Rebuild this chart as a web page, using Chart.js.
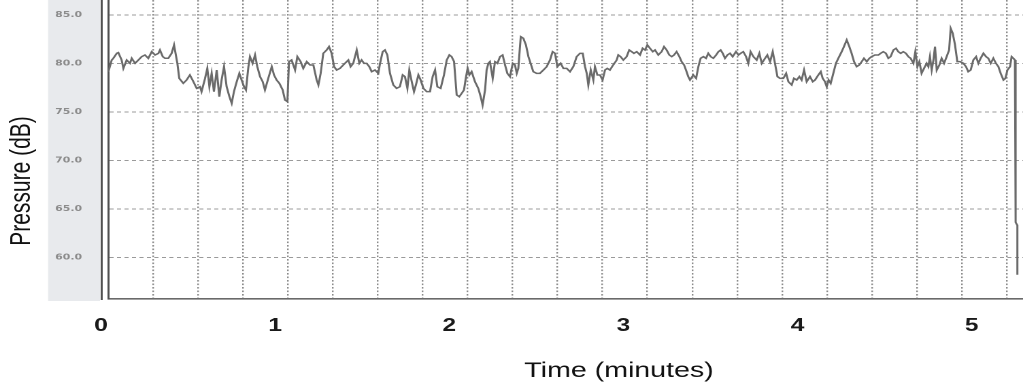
<!DOCTYPE html>
<html>
<head>
<meta charset="utf-8">
<title>Pressure (dB)</title>
<script src="https://cdn.jsdelivr.net/npm/chart.js@4.4.0/dist/chart.umd.min.js"></script>
<style>
    html, body { margin: 0; padding: 0; background: #fff; overflow: hidden; }
    /* the source picture is stretched sideways, so the chart is drawn narrow and widened */
    #wrap { width: 752px; height: 386px; transform: scaleX(1.3604); transform-origin: 0 0; }
</style>
</head>
<body>
<div id="wrap"><canvas id="chart" width="752" height="386"></canvas></div>
<script>
// 시간 (분)
const TIME_MIN = [
    0.042,0.061,0.070,0.090,0.099,0.118,0.128,0.147,0.166,0.176,
    0.195,0.214,0.233,0.252,0.271,0.291,0.310,0.329,0.338,0.354,
    0.367,0.386,0.405,0.419,0.438,0.449,0.472,0.491,0.510,0.530,
    0.549,0.568,0.577,0.597,0.610,0.622,0.635,0.648,0.664,0.679,
    0.692,0.706,0.721,0.737,0.750,0.763,0.779,0.794,0.807,0.821,
    0.832,0.846,0.855,0.870,0.884,0.897,0.913,0.928,0.941,0.960,
    0.980,0.993,1.008,1.024,1.043,1.056,1.070,1.079,1.094,1.114,
    1.127,1.146,1.161,1.181,1.200,
    1.219,1.238,1.248,1.261,1.276,1.295,1.309,1.324,1.338,1.353,
    1.372,1.391,1.410,1.420,1.433,1.448,1.468,1.483,1.496,1.510,
    1.525,1.540,1.554,1.573,1.592,1.602,1.617,1.630,1.644,1.659,
    1.678,1.697,1.716,1.732,1.745,1.759,1.770,1.784,1.797,1.808,
    1.822,1.835,1.851,1.870,1.889,1.904,1.918,1.931,1.950,1.969,
    1.985,2.000,2.013,2.027,2.042,2.057,2.071,2.084,2.096,2.105,
    2.115,2.128,2.147,2.166,2.180,2.191,2.205,2.214,2.224,2.233,
    2.249,2.262,2.276,2.291,2.306,2.320,2.333,2.348,2.364,2.377,
    2.387,2.396,2.410,2.425,2.440,2.454,
    2.482,2.501,2.520,2.540,2.559,2.578,2.593,2.607,2.620,2.639,
    2.655,2.674,2.693,2.712,2.731,2.750,2.766,2.779,2.789,2.798,
    2.812,2.827,2.836,2.850,2.865,2.880,2.894,2.907,2.922,2.941,
    2.961,2.970,2.983,2.999,3.018,3.033,3.047,3.060,3.076,3.095,
    3.110,3.124,3.137,3.152,3.168,3.181,3.200,3.219,3.233,3.248,
    3.263,3.277,3.290,3.305,3.321,3.334,3.348,3.359,3.372,3.382,
    3.401,3.417,3.430,3.443,3.459,3.474,3.487,3.501,3.516,3.532,
    3.545,3.558,3.570,3.583,3.597,3.612,3.627,3.646,3.660,3.673,
    3.688,3.704,3.717,3.730,3.746,
    3.765,3.780,3.794,3.813,3.826,3.842,3.857,3.870,3.884,3.899,
    3.918,3.934,3.947,3.966,3.979,3.995,4.010,4.023,4.037,4.052,
    4.071,4.087,4.100,4.119,4.133,4.144,4.157,4.167,4.178,4.190,
    4.205,4.220,4.234,4.253,4.266,4.282,4.297,4.310,4.324,4.339,
    4.354,4.368,4.381,4.397,4.412,4.425,4.444,4.464,4.477,4.492,
    4.507,4.521,4.534,4.550,4.565,4.578,4.592,4.607,4.622,4.636,
    4.649,4.665,4.676,4.688,4.699,4.712,4.726,4.741,4.751,4.760,
    4.770,4.780,4.789,4.799,4.814,4.827,4.841,4.856,4.870,4.879,
    4.891,4.904,4.917,4.933,4.952,4.967,4.980,4.994,5.009,5.025,
    5.038,5.051,5.067,5.082,5.095,5.109,5.124,5.139,5.153,5.166,
    5.182,5.193,5.205,5.220,5.229,5.239,5.248,5.252,5.252,5.262,5.262
];

// 압력 (dB)
const PRESSURE_DB = [
    79.14,80.34,80.51,81.03,81.10,80.34,79.48,80.34,80.00,80.52,
    80.00,80.34,80.69,80.86,80.52,81.20,80.86,81.03,81.37,80.69,
    80.52,80.52,81.03,81.89,80.00,78.45,77.94,78.28,78.80,78.11,
    77.42,77.59,77.08,78.45,79.48,77.59,78.97,77.08,79.31,76.56,
    78.28,79.66,77.59,76.56,75.88,77.08,78.11,78.97,78.28,77.59,
    77.25,79.66,80.69,80.00,80.86,79.66,78.63,78.11,77.25,78.45,
    79.66,78.80,78.28,77.94,77.25,76.22,76.05,80.17,80.34,79.31,
    80.69,80.17,79.48,80.17,79.83,
    79.83,78.28,77.77,78.97,81.03,81.37,81.72,81.03,79.66,79.31,
    79.48,79.83,80.17,80.34,79.66,80.00,81.37,80.00,80.34,80.00,
    80.00,79.66,79.14,79.31,78.97,80.00,81.20,81.37,80.86,78.97,
    77.77,77.42,77.59,78.80,78.63,77.42,79.31,78.11,77.08,77.77,
    78.80,78.28,77.42,77.08,77.08,78.63,79.31,77.59,77.42,78.80,
    80.34,80.86,80.69,80.17,76.74,76.56,76.91,77.25,78.63,79.48,
    78.80,79.14,78.11,77.42,76.56,75.70,77.25,79.31,80.00,80.17,
    78.45,80.17,80.00,80.69,80.86,79.83,78.97,78.63,80.00,79.83,
    78.97,79.48,82.75,82.58,81.89,80.69,
    79.14,78.97,78.97,79.31,79.66,80.34,81.20,81.03,79.66,80.00,
    79.48,79.48,79.14,79.66,80.69,81.03,81.03,79.66,78.97,77.77,
    79.31,78.28,79.66,78.80,78.80,78.28,79.31,79.48,79.31,79.83,
    80.34,80.86,80.69,80.34,80.69,81.37,81.20,81.03,81.20,80.86,
    81.55,81.37,81.89,81.55,81.20,81.37,80.86,81.20,81.72,81.37,
    80.86,80.69,80.86,81.20,80.69,80.17,79.83,79.31,78.63,78.28,
    78.80,78.45,79.66,80.52,80.69,80.52,81.03,80.69,80.52,80.86,
    81.20,81.37,81.03,80.52,80.86,81.03,80.69,81.20,80.86,81.03,
    81.20,80.69,80.00,81.20,80.69,
    80.34,81.03,80.00,80.52,80.86,80.17,81.20,80.00,78.63,78.45,
    78.45,78.97,78.11,77.77,78.45,78.28,78.63,78.28,79.31,78.11,
    78.63,78.11,78.28,78.80,79.14,78.45,78.11,77.59,78.28,77.94,
    78.97,80.00,80.52,81.20,81.72,82.41,81.72,81.03,80.17,79.66,
    79.83,80.17,80.52,80.17,80.52,80.69,80.86,80.86,81.03,81.20,
    81.03,80.52,80.69,81.37,81.55,81.20,81.03,81.20,81.03,80.69,
    80.52,80.00,81.20,79.66,80.17,78.97,79.48,80.00,79.66,80.69,
    79.31,80.34,81.72,79.31,79.83,80.52,80.00,80.69,81.37,83.61,
    83.09,81.89,80.17,80.17,80.00,79.66,79.14,79.31,80.34,80.69,
    80.00,80.52,81.03,80.69,80.52,80.00,80.52,80.00,79.66,78.97,
    78.28,78.45,79.31,79.66,80.69,80.52,80.34,80.00,63.60,63.30,58.20
];

// 축 눈금
const X_TICKS = [0, 1, 2, 3, 4, 5];
const X_GRID = [0.299, 0.557, 0.815, 1.073, 1.331, 1.589, 1.847, 2.105, 2.363, 2.621,
                2.879, 3.137, 3.395, 3.653, 3.911, 4.169, 4.427, 4.685, 4.943, 5.201];
const Y_TICKS = [60, 65, 70, 75, 80, 85];
const X_MIN = 0.0414, X_MAX = 5.2945;
const Y_MIN = 55.70, Y_MAX = 86.53;

const X_TITLE = 'Time (minutes)';
const Y_TITLE = 'Pressure (dB)';

// 회색 패널, 바깥 세로선, 축 제목
const decor = {
    id: 'decor',
    beforeDraw(chart) {
        const ctx = chart.ctx, a = chart.chartArea;
        ctx.save();
        ctx.fillStyle = '#e8eaed';
        ctx.fillRect(35.3, 0, a.left - 6.1 - 35.3, a.bottom + 2);
        ctx.restore();
    },
    afterDraw(chart) {
        const ctx = chart.ctx, a = chart.chartArea;
        ctx.save();
        ctx.strokeStyle = '#505050';
        ctx.lineWidth = 1.5;
        ctx.beginPath();
        ctx.moveTo(a.left - 4.85, 0);
        ctx.lineTo(a.left - 4.85, a.bottom + 1);
        ctx.stroke();

        ctx.fillStyle = '#111';
        ctx.font = '21px "Liberation Sans", Arial, sans-serif';
        ctx.textAlign = 'center';
        ctx.textBaseline = 'alphabetic';
        ctx.fillText(X_TITLE, 455, 377);

        ctx.font = '21px "Liberation Sans", Arial, sans-serif';
        ctx.translate(22, 181);
        ctx.rotate(-Math.PI / 2);
        ctx.fillText(Y_TITLE, 0, 0);
        ctx.restore();
    }
};

function createChart() {
    const ctx = document.getElementById('chart').getContext('2d');
    const points = TIME_MIN.map((t, i) => ({ x: t, y: PRESSURE_DB[i] }))
        .filter(p => p.y !== undefined);

    new Chart(ctx, {
        type: 'line',
        data: {
            datasets: [{
                label: Y_TITLE,
                data: points,
                borderColor: '#6a6a6a',
                borderWidth: 1.5,
                pointRadius: 0,
                tension: 0,
                fill: false
            }]
        },
        options: {
            responsive: false,
            devicePixelRatio: 2,
            animation: false,
            layout: { padding: 0 },
            plugins: {
                legend: { display: false },
                tooltip: { enabled: false }
            },
            scales: {
                x: {
                    type: 'linear',
                    position: 'bottom',
                    min: X_MIN,
                    max: X_MAX,
                    afterBuildTicks: s => { s.ticks = X_GRID.map(v => ({ value: v })); },
                    afterFit: s => { s.height = 0; s.paddingLeft = 0; s.paddingRight = 0; },
                    ticks: { display: false },
                    grid: { color: '#8c8c8c', lineWidth: 1.2, drawTicks: false },
                    border: { display: true, color: '#6a6a6a', width: 1.6, dash: [1.6, 1.9] }
                },
                xl: {
                    type: 'linear',
                    position: 'bottom',
                    min: X_MIN,
                    max: X_MAX,
                    afterBuildTicks: s => { s.ticks = X_TICKS.map(v => ({ value: v })); },
                    afterFit: s => { s.height = 87; s.paddingLeft = 0; s.paddingRight = 0; },
                    ticks: {
                        autoSkip: false,
                        maxRotation: 0,
                        padding: 16,
                        color: '#1a1a1a',
                        font: { family: '"Liberation Sans", Arial, sans-serif', size: 18, weight: 'bold' },
                        callback: v => String(v)
                    },
                    grid: { display: false, drawTicks: false },
                    border: { display: false }
                },
                y: {
                    type: 'linear',
                    min: Y_MIN,
                    max: Y_MAX,
                    afterBuildTicks: s => { s.ticks = Y_TICKS.map(v => ({ value: v })); },
                    afterFit: s => { s.width = 79.6; s.paddingTop = 0; s.paddingBottom = 0; },
                    ticks: {
                        padding: 19.3,
                        color: '#8c8c8c',
                        font: { family: '"DejaVu Sans", Verdana, sans-serif', size: 8, weight: 'bold' },
                        callback: v => v.toFixed(1)
                    },
                    grid: { color: '#9a9a9a', lineWidth: 1, drawTicks: false },
                    border: { display: true, color: '#505050', width: 1.5, dash: [3, 2.5] }
                }
            }
        },
        plugins: [decor]
    });
}

document.addEventListener('DOMContentLoaded', function () {
    createChart();
});
</script>
</body>
</html>
